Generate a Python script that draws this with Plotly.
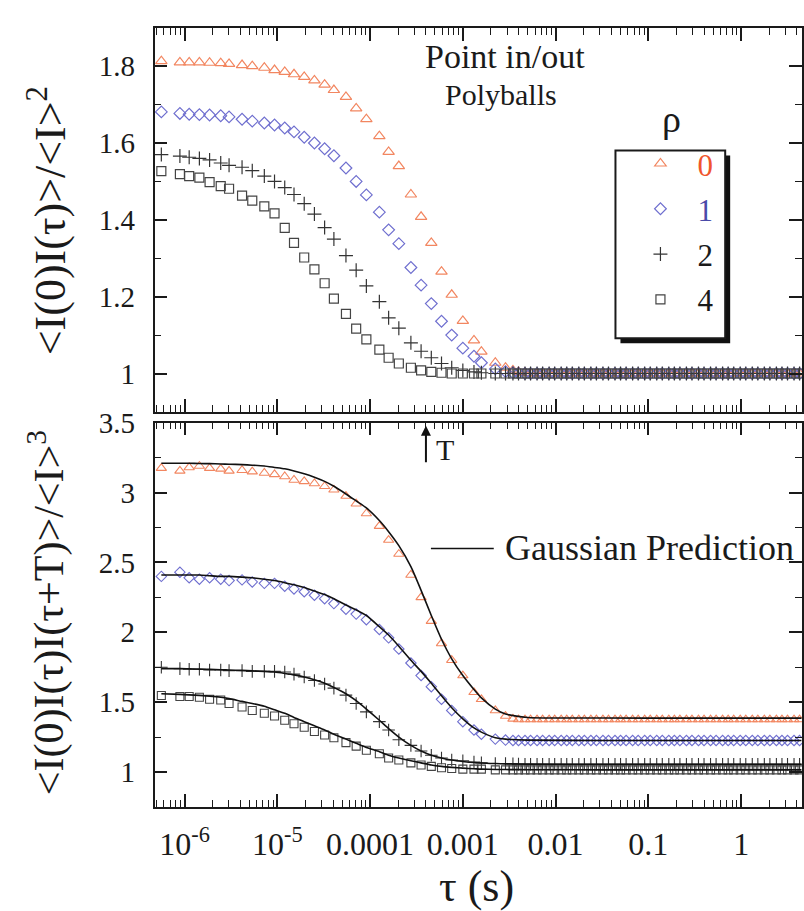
import plotly.graph_objects as go

# ---------------- data ----------------
TAU_LOG_EARLY = [-6.25, -6.05, -5.95, -5.84, -5.73, -5.61, -5.52, -5.38, -5.27, -5.14,
                 -5.03, -4.92, -4.82, -4.71, -4.60, -4.49, -4.39, -4.26, -4.15, -4.04,
                 -3.90, -3.80, -3.69, -3.56, -3.45, -3.34, -3.23, -3.12, -3.00, -2.88,
                 -2.80, -2.65, -2.54]
TAU_LOG_TAIL = [-2.46, -2.40, -2.33, -2.27, -2.20, -2.14, -2.07, -2.01, -1.94, -1.88,
                -1.82, -1.75, -1.69, -1.62, -1.56, -1.49, -1.43, -1.36, -1.30, -1.24,
                -1.17, -1.11, -1.04, -0.98, -0.91, -0.85, -0.78, -0.72, -0.66, -0.59,
                -0.53, -0.46, -0.40, -0.33, -0.27, -0.20, -0.14, -0.08, -0.01, 0.05,
                0.12, 0.18, 0.25, 0.31, 0.38, 0.44, 0.50, 0.57, 0.63]
LINE_LOG_TAIL = [-2.30, -1.50, -0.50, 0.65]

RHO_LABELS = ["0", "1", "2", "4"]

# top panel: <I(0)I(tau)>/<I>^2
G2_RHO0 = [1.813, 1.810, 1.810, 1.810, 1.809, 1.808, 1.806, 1.803, 1.800, 1.796,
           1.790, 1.785, 1.779, 1.772, 1.763, 1.752, 1.738, 1.720, 1.690, 1.662,
           1.618, 1.577, 1.540, 1.466, 1.408, 1.340, 1.265, 1.205, 1.137, 1.086,
           1.057, 1.028, 1.015]
G2_RHO0_TAIL = [1.008, 1.004, 1.002, 1.001, 1.0, 1.0, 1.0, 1.0, 1.0, 1.0,
                1.0, 1.0, 1.0, 1.0, 1.0, 1.0, 1.0, 1.0, 1.0, 1.0,
                1.0, 1.0, 1.0, 1.0, 1.0, 1.0, 1.0, 1.0, 1.0, 1.0,
                1.0, 1.0, 1.0, 1.0, 1.0, 1.0, 1.0, 1.0, 1.0, 1.0,
                1.0, 1.0, 1.0, 1.0, 1.0, 1.0, 1.0, 1.0, 1.0]
G2_RHO1 = [1.681, 1.677, 1.675, 1.674, 1.673, 1.671, 1.668, 1.662, 1.657, 1.652,
           1.647, 1.639, 1.629, 1.615, 1.600, 1.585, 1.567, 1.535, 1.500, 1.465,
           1.420, 1.374, 1.338, 1.276, 1.230, 1.182, 1.136, 1.100, 1.066, 1.045,
           1.028, 1.012, 1.005]
G2_RHO1_TAIL = [1.002, 1.001, 1.0, 1.0, 1.0, 1.0, 1.0, 1.0, 1.0, 1.0,
                1.0, 1.0, 1.0, 1.0, 1.0, 1.0, 1.0, 1.0, 1.0, 1.0,
                1.0, 1.0, 1.0, 1.0, 1.0, 1.0, 1.0, 1.0, 1.0, 1.0,
                1.0, 1.0, 1.0, 1.0, 1.0, 1.0, 1.0, 1.0, 1.0, 1.0,
                1.0, 1.0, 1.0, 1.0, 1.0, 1.0, 1.0, 1.0, 1.0]
G2_RHO2 = [1.570, 1.566, 1.563, 1.560, 1.556, 1.548, 1.542, 1.537, 1.528, 1.514,
           1.500, 1.484, 1.466, 1.442, 1.415, 1.380, 1.350, 1.307, 1.269, 1.228,
           1.187, 1.145, 1.118, 1.080, 1.058, 1.041, 1.026, 1.015, 1.008, 1.004,
           1.002, 1.0, 1.0]
G2_RHO2_TAIL = [1.0, 1.0, 1.0, 1.0, 1.0, 1.0, 1.0, 1.0, 1.0, 1.0,
                1.0, 1.0, 1.0, 1.0, 1.0, 1.0, 1.0, 1.0, 1.0, 1.0,
                1.0, 1.0, 1.0, 1.0, 1.0, 1.0, 1.0, 1.0, 1.0, 1.0,
                1.0, 1.0, 1.0, 1.0, 1.0, 1.0, 1.0, 1.0, 1.0, 1.0,
                1.0, 1.0, 1.0, 1.0, 1.0, 1.0, 1.0, 1.0, 1.0]
G2_RHO4 = [1.527, 1.519, 1.514, 1.510, 1.498, 1.488, 1.481, 1.463, 1.450, 1.435,
           1.417, 1.379, 1.340, 1.302, 1.271, 1.235, 1.195, 1.155, 1.117, 1.089,
           1.062, 1.041, 1.026, 1.015, 1.008, 1.004, 1.002, 1.0, 1.0, 1.0,
           1.0, 1.0, 1.0]
G2_RHO4_TAIL = [1.0, 1.0, 1.0, 1.0, 1.0, 1.0, 1.0, 1.0, 1.0, 1.0,
                1.0, 1.0, 1.0, 1.0, 1.0, 1.0, 1.0, 1.0, 1.0, 1.0,
                1.0, 1.0, 1.0, 1.0, 1.0, 1.0, 1.0, 1.0, 1.0, 1.0,
                1.0, 1.0, 1.0, 1.0, 1.0, 1.0, 1.0, 1.0, 1.0, 1.0,
                1.0, 1.0, 1.0, 1.0, 1.0, 1.0, 1.0, 1.0, 1.0]

# bottom panel: <I(0)I(tau)I(tau+T)>/<I>^3 (markers)
G3_RHO0 = [3.175, 3.155, 3.18, 3.19, 3.175, 3.17, 3.155, 3.16, 3.15, 3.14,
           3.13, 3.115, 3.09, 3.08, 3.065, 3.045, 3.02, 2.975, 2.92, 2.85,
           2.76, 2.66, 2.56, 2.41, 2.25, 2.08, 1.92, 1.80, 1.69, 1.57,
           1.52, 1.44, 1.40]
G3_RHO0_TAIL = [1.38, 1.375, 1.375, 1.375, 1.375, 1.375, 1.375, 1.375, 1.375, 1.375,
                1.375, 1.375, 1.375, 1.375, 1.375, 1.375, 1.375, 1.375, 1.375, 1.375,
                1.375, 1.375, 1.375, 1.375, 1.375, 1.375, 1.375, 1.375, 1.375, 1.375,
                1.375, 1.375, 1.375, 1.375, 1.375, 1.375, 1.375, 1.375, 1.375, 1.375,
                1.375, 1.375, 1.375, 1.375, 1.375, 1.375, 1.375, 1.375, 1.375]
G3_RHO1 = [2.40, 2.43, 2.39, 2.38, 2.39, 2.38, 2.37, 2.375, 2.36, 2.35,
           2.35, 2.33, 2.31, 2.29, 2.265, 2.24, 2.205, 2.165, 2.13, 2.09,
           2.02, 1.96, 1.88, 1.78, 1.69, 1.61, 1.52, 1.44, 1.36, 1.30,
           1.27, 1.235, 1.228]
G3_RHO1_TAIL = [1.225, 1.225, 1.225, 1.225, 1.225, 1.225, 1.225, 1.225, 1.225, 1.225,
                1.225, 1.225, 1.225, 1.225, 1.225, 1.225, 1.225, 1.225, 1.225, 1.225,
                1.225, 1.225, 1.225, 1.225, 1.225, 1.225, 1.225, 1.225, 1.225, 1.225,
                1.225, 1.225, 1.225, 1.225, 1.225, 1.225, 1.225, 1.225, 1.225, 1.225,
                1.225, 1.225, 1.225, 1.225, 1.225, 1.225, 1.225, 1.225, 1.225]
G3_RHO2 = [1.75, 1.74, 1.735, 1.735, 1.73, 1.73, 1.725, 1.725, 1.72, 1.72,
           1.72, 1.715, 1.70, 1.68, 1.655, 1.63, 1.60, 1.55, 1.49, 1.43,
           1.36, 1.30, 1.23, 1.19, 1.15, 1.12, 1.10, 1.085, 1.08, 1.07,
           1.065, 1.06, 1.06]
G3_RHO2_TAIL = [1.058, 1.056, 1.055, 1.055, 1.055, 1.055, 1.055, 1.055, 1.055, 1.055,
                1.055, 1.055, 1.055, 1.055, 1.055, 1.055, 1.055, 1.055, 1.055, 1.055,
                1.055, 1.055, 1.055, 1.055, 1.055, 1.055, 1.055, 1.055, 1.055, 1.055,
                1.055, 1.055, 1.055, 1.055, 1.055, 1.055, 1.055, 1.055, 1.055, 1.055,
                1.055, 1.055, 1.055, 1.055, 1.055, 1.055, 1.055, 1.055, 1.055]
G3_RHO4 = [1.547, 1.54, 1.54, 1.535, 1.52, 1.515, 1.49, 1.465, 1.44, 1.42,
           1.40, 1.37, 1.345, 1.32, 1.29, 1.265, 1.245, 1.21, 1.185, 1.155,
           1.13, 1.10, 1.085, 1.065, 1.05, 1.04, 1.03, 1.025, 1.02, 1.02,
           1.02, 1.015, 1.015]
G3_RHO4_TAIL = [1.015, 1.015, 1.015, 1.015, 1.015, 1.015, 1.015, 1.015, 1.015, 1.015,
                1.015, 1.015, 1.015, 1.015, 1.015, 1.015, 1.015, 1.015, 1.015, 1.015,
                1.015, 1.015, 1.015, 1.015, 1.015, 1.015, 1.015, 1.015, 1.015, 1.015,
                1.015, 1.015, 1.015, 1.015, 1.015, 1.015, 1.015, 1.015, 1.015, 1.015,
                1.015, 1.015, 1.015, 1.015, 1.015, 1.015, 1.015, 1.015, 1.015]

# Gaussian prediction curves
GAUSS_RHO0 = [3.21, 3.21, 3.21, 3.208, 3.207, 3.205, 3.203, 3.20, 3.196, 3.19,
              3.18, 3.17, 3.155, 3.135, 3.11, 3.08, 3.045, 2.99, 2.94, 2.89,
              2.80, 2.72, 2.62, 2.47, 2.30, 2.12, 1.95, 1.81, 1.69, 1.59,
              1.53, 1.45, 1.415, 1.39, 1.386, 1.385, 1.385]
GAUSS_RHO1 = [2.41, 2.41, 2.41, 2.41, 2.405, 2.40, 2.40, 2.395, 2.39, 2.38,
              2.37, 2.355, 2.34, 2.32, 2.295, 2.27, 2.24, 2.195, 2.16, 2.12,
              2.04, 1.98, 1.90, 1.80, 1.72, 1.635, 1.545, 1.46, 1.38, 1.315,
              1.285, 1.245, 1.235, 1.228, 1.225, 1.225, 1.225]
GAUSS_RHO2 = [1.74, 1.74, 1.738, 1.736, 1.734, 1.732, 1.73, 1.727, 1.724, 1.72,
              1.715, 1.705, 1.695, 1.68, 1.66, 1.635, 1.605, 1.56, 1.51, 1.45,
              1.37, 1.31, 1.25, 1.19, 1.15, 1.12, 1.10, 1.085, 1.075, 1.068,
              1.064, 1.06, 1.058, 1.056, 1.055, 1.055, 1.055]
GAUSS_RHO4 = [1.56, 1.555, 1.552, 1.548, 1.543, 1.535, 1.525, 1.505, 1.49, 1.47,
              1.445, 1.42, 1.39, 1.36, 1.33, 1.30, 1.27, 1.235, 1.205, 1.175,
              1.145, 1.12, 1.10, 1.08, 1.065, 1.05, 1.04, 1.033, 1.027, 1.023,
              1.02, 1.018, 1.017, 1.016, 1.015, 1.015, 1.015]

X_TICK_VALS = [1e-6, 1e-5, 1e-4, 1e-3, 1e-2, 1e-1, 1]
X_TICK_TEXT = ["10<sup>-6</sup>", "10<sup>-5</sup>", "0.0001", "0.001", "0.01", "0.1", "1"]

# ---------------- helpers ----------------
W, H = 804, 911
SERIF = "Liberation Serif"
INK = "#1a1a1a"


def px(x):
    return x / W


def py(y):
    return 1 - y / H


tau = [10 ** v for v in TAU_LOG_EARLY + TAU_LOG_TAIL]
tau_line = [10 ** v for v in TAU_LOG_EARLY + LINE_LOG_TAIL]

COL0 = "#f28660"
COL1 = "#6f6fcf"
COL2 = "#333333"
COL4 = "#444444"
LAB0 = "#f0552c"
LAB1 = "#4a4aa8"

top_series = [
    (G2_RHO0 + G2_RHO0_TAIL, "triangle-up-open", 10, COL0, LAB0),
    (G2_RHO1 + G2_RHO1_TAIL, "diamond-open", 9, COL1, LAB1),
    (G2_RHO2 + G2_RHO2_TAIL, "cross-thin", 10, COL2, INK),
    (G2_RHO4 + G2_RHO4_TAIL, "square-open", 9, COL4, INK),
]
bot_series = [
    (G3_RHO0 + G3_RHO0_TAIL, "triangle-up-open", 9, COL0),
    (G3_RHO1 + G3_RHO1_TAIL, "diamond-open", 8, COL1),
    (G3_RHO2 + G3_RHO2_TAIL, "cross-thin", 9, COL2),
    (G3_RHO4 + G3_RHO4_TAIL, "square-open", 8, COL4),
]
gauss = [GAUSS_RHO0, GAUSS_RHO1, GAUSS_RHO2, GAUSS_RHO4]

fig = go.Figure()

for i, (ys, sym, size, col, labcol) in enumerate(top_series):
    fig.add_trace(go.Scatter(
        x=tau, y=ys, mode="markers", xaxis="x2", yaxis="y2",
        name="<span style='color:%s'>%s</span>" % (labcol, RHO_LABELS[i]),
        legendgroup="g%d" % i,
        marker=dict(symbol=sym, size=size, color=col,
                    line=dict(width=1.2, color=col)),
    ))

for i, (ys, sym, size, col) in enumerate(bot_series):
    fig.add_trace(go.Scatter(
        x=tau, y=ys, mode="markers", xaxis="x", yaxis="y", showlegend=False,
        marker=dict(symbol=sym, size=size, color=col,
                    line=dict(width=1.1, color=col)),
    ))

for ys in gauss:
    fig.add_trace(go.Scatter(
        x=tau_line, y=ys, mode="lines", xaxis="x", yaxis="y", showlegend=False,
        line=dict(color="#111111", width=1.6, shape="spline", smoothing=0.6),
    ))

minor_x = [m * 10 ** e for e in range(-7, 1) for m in range(2, 10)]

x_common = dict(
    type="log", range=[-6.3226, 0.656], domain=[px(155), 1.0],
    showline=True, linecolor=INK, linewidth=1.5, mirror="allticks",
    ticks="inside", ticklen=13, tickwidth=1.5, tickcolor=INK,
    tickmode="array", tickvals=X_TICK_VALS, ticktext=X_TICK_TEXT,
    minor=dict(ticks="inside", ticklen=7, tickwidth=1, tickcolor=INK,
               tickmode="array", tickvals=minor_x),
    showgrid=False, zeroline=False,
    tickfont=dict(family=SERIF, size=32, color=INK),
)
y_common = dict(
    showline=True, linecolor=INK, linewidth=1.5, mirror="allticks",
    ticks="inside", ticklen=13, tickwidth=1.5, tickcolor=INK,
    showgrid=False, zeroline=False,
    tickfont=dict(family=SERIF, size=29, color=INK),
    ticklabelstandoff=12,
)

fig.update_layout(
    width=W, height=H, autosize=False,
    margin=dict(l=0, r=0, t=0, b=0),
    paper_bgcolor="white", plot_bgcolor="white",
    font=dict(family=SERIF, color=INK),
    xaxis=dict(**x_common, anchor="y", showticklabels=True, ticklabelstandoff=8),
    xaxis2=dict(**x_common, anchor="y2", matches="x", showticklabels=False),
    yaxis=dict(**y_common, domain=[py(805), py(414)], range=[0.75, 3.5],
               tick0=1, dtick=0.5, anchor="x",
               minor=dict(ticks="inside", ticklen=7, tickwidth=1, tickcolor=INK,
                          tick0=1, dtick=0.25)),
    yaxis2=dict(**y_common, domain=[py(403), py(12)], range=[0.9, 1.9],
                tick0=1, dtick=0.2, anchor="x2",
                minor=dict(ticks="inside", ticklen=7, tickwidth=1, tickcolor=INK,
                           tick0=1, dtick=0.1)),
    showlegend=True,
    legend=dict(x=px(625), y=py(123), xanchor="left", yanchor="top",
                bgcolor="rgba(0,0,0,0)", borderwidth=0,
                font=dict(family=SERIF, size=31, color=INK),
                itemwidth=64, tracegroupgap=2, itemsizing="trace",
                itemclick=False, itemdoubleclick=False),
)

# legend frame with drop shadow
fig.add_shape(type="rect", xref="paper", yref="paper",
              x0=px(622), x1=px(732), y0=py(333), y1=py(142),
              fillcolor="#111111", line=dict(width=0), layer="below")
fig.add_shape(type="rect", xref="paper", yref="paper",
              x0=px(617), x1=px(727), y0=py(328), y1=py(137),
              fillcolor="white", line=dict(width=2, color=INK), layer="below")

# Gaussian prediction key line
fig.add_shape(type="line", xref="paper", yref="paper",
              x0=px(432), x1=px(495), y0=py(542), y1=py(542),
              line=dict(color="#111111", width=1.6))

ann = []


def text(x, y, s, size, angle=0, xanchor="center", color=INK):
    ann.append(dict(x=px(x), y=py(y), xref="paper", yref="paper", text=s,
                    showarrow=False, textangle=angle, xanchor=xanchor,
                    yanchor="middle", borderpad=0,
                    font=dict(family=SERIF, size=size, color=color)))


text(47, 208, "&lt;I(0)I(τ)&gt;/&lt;I&gt;<sup>2</sup>", 44, angle=-90)
text(47, 607, "&lt;I(0)I(τ)I(τ+T)&gt;/&lt;I&gt;<sup>3</sup>", 42, angle=-90)
text(478, 886, "τ (s)", 44)
text(506, 41, "Point in/out", 34)
text(502, 80, "Polyballs", 30)
text(673, 105, "ρ", 38)
text(505, 542, "Gaussian Prediction", 36, xanchor="left")
text(446, 441, "T", 30)

ann.append(dict(x=px(427), y=py(417), xref="paper", yref="paper", text="",
                showarrow=True, ax=0, ay=38, arrowhead=2, arrowsize=1,
                arrowwidth=2, arrowcolor="#111111"))

fig.update_layout(annotations=ann)

fig.write_html("out.html")
